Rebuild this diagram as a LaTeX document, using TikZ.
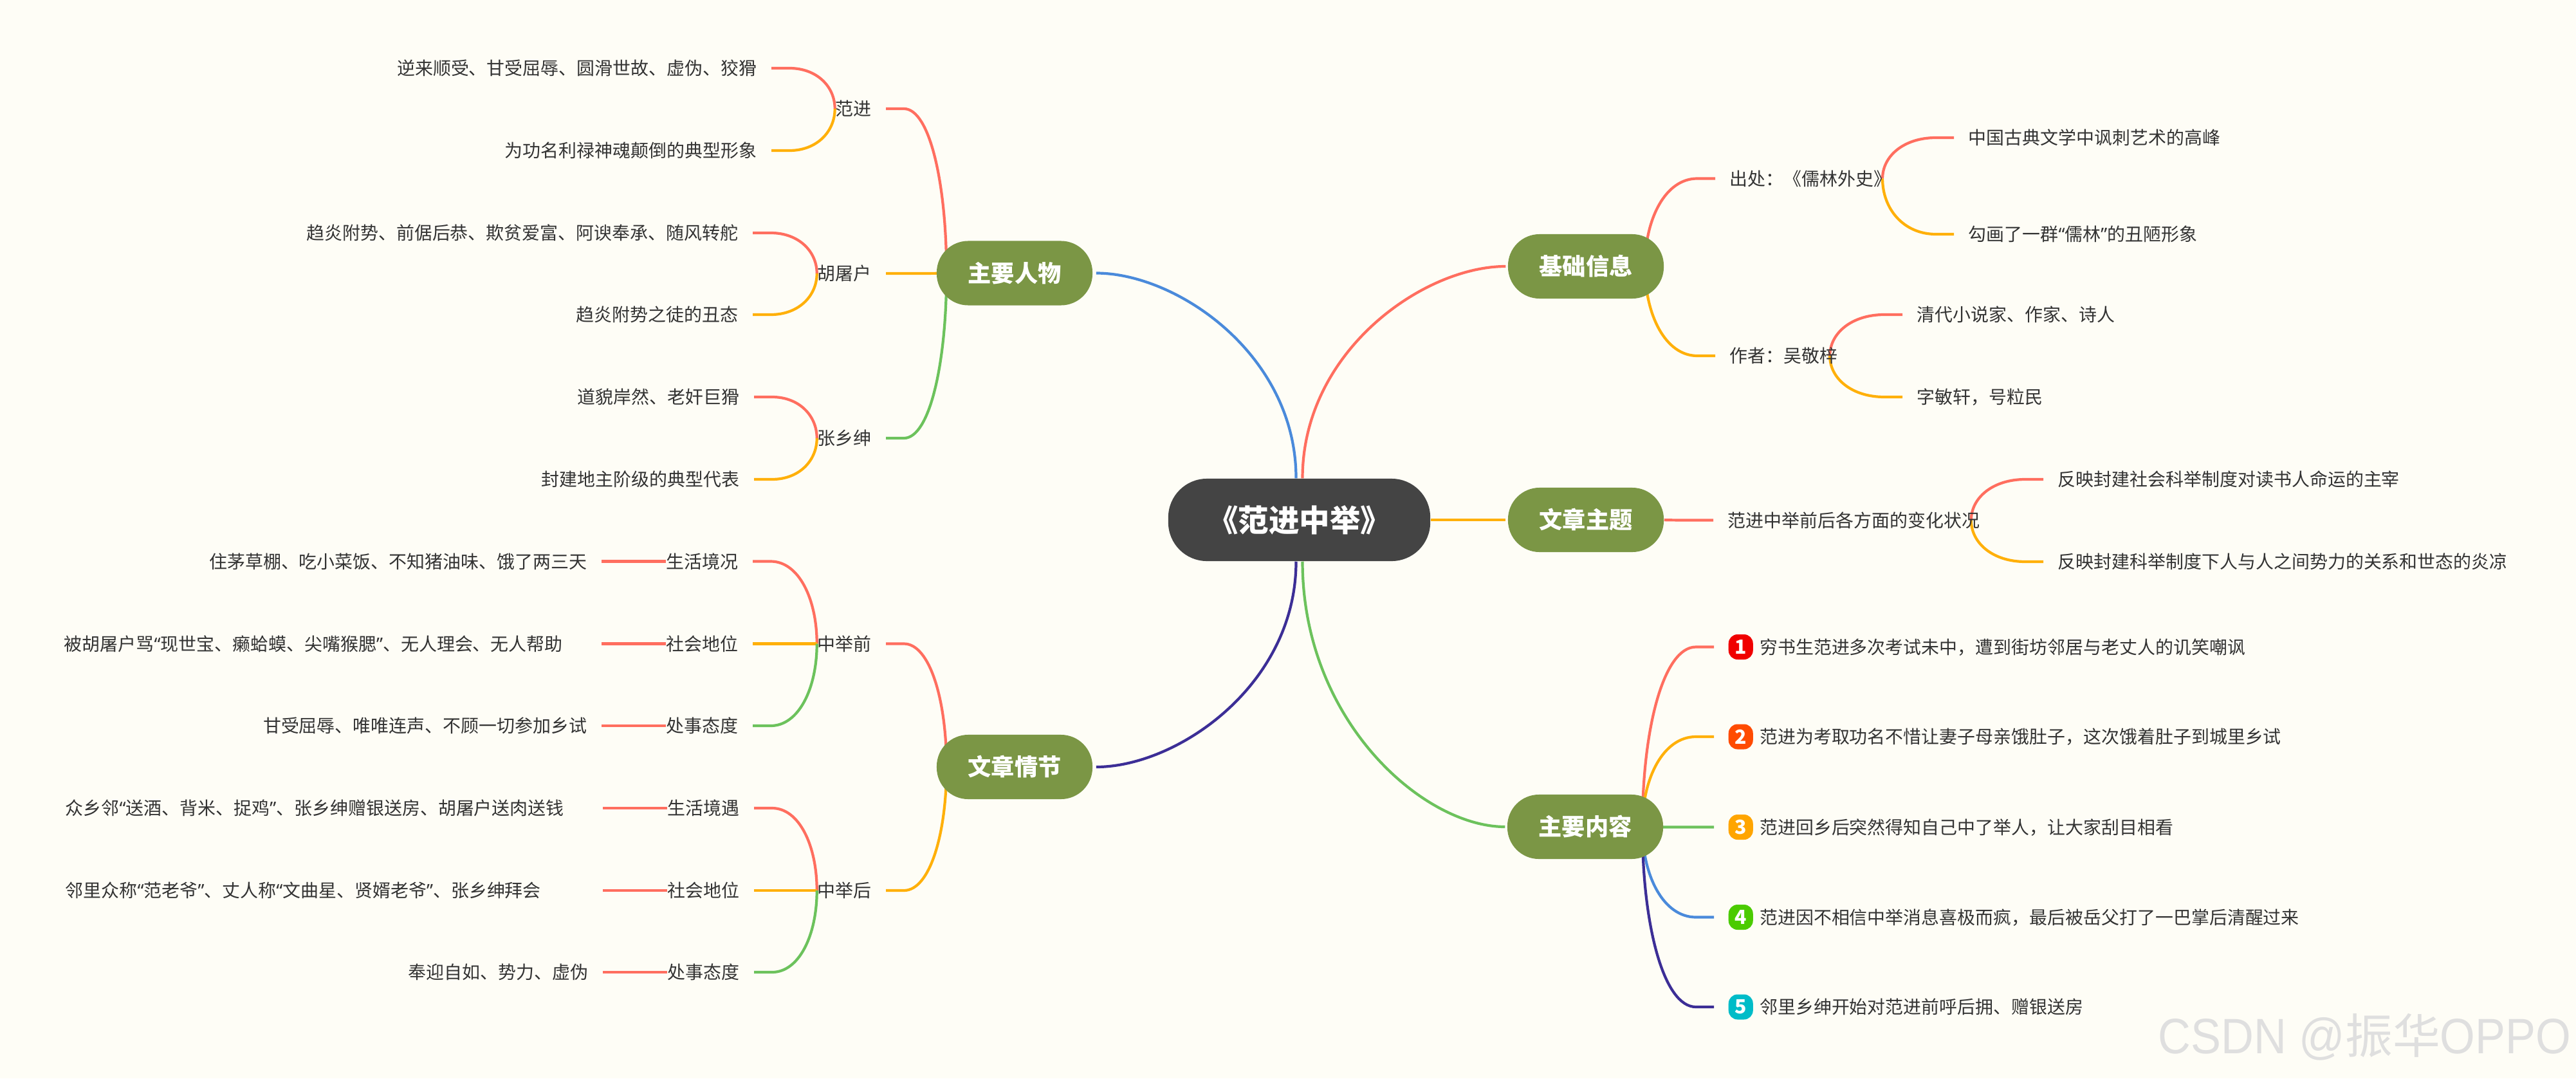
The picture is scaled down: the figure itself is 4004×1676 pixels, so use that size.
\documentclass[tikz,border=0pt]{standalone}
\usepackage{fontspec}
\usepackage{xcolor}
\usetikzlibrary{positioning,backgrounds,calc}
\setmainfont{Noto Sans CJK SC}
\newfontfamily\qtfont{Noto Sans}
\newfontfamily\wmfont[FakeStretch=0.91]{Liberation Sans}
\newcommand{\ql}{{\qtfont “}}
\newcommand{\qr}{{\qtfont ”}}
\definecolor{paper}{HTML}{FEFDF6}
\definecolor{ink}{HTML}{333333}
\definecolor{rootfill}{HTML}{444444}
\definecolor{topicfill}{HTML}{7B9645}
\definecolor{lred}{HTML}{FF6E5F}
\definecolor{lorange}{HTML}{FFB00A}
\definecolor{lgreen}{HTML}{6CC25C}
\definecolor{lblue}{HTML}{4A8ADB}
\definecolor{lindigo}{HTML}{3C2E96}
\definecolor{wmgray}{HTML}{DFDFDF}
\definecolor{numa}{HTML}{F00000}
\definecolor{numb}{HTML}{FF4B00}
\definecolor{numc}{HTML}{FFA500}
\definecolor{numd}{HTML}{4BCB00}
\definecolor{nume}{HTML}{00BCC8}
\tikzset{
  rootbox/.style={fill=rootfill, text=white, rounded corners=0.6cm,
                  minimum width=4.07cm, minimum height=1.28cm, inner sep=0pt,
                  font=\fontsize{13.5}{16}\selectfont\bfseries},
  topic/.style={fill=topicfill, text=white, rounded corners=0.49cm,
                minimum width=2.42cm, minimum height=1cm, inner sep=0pt,
                font=\fontsize{10.3}{12}\selectfont\bfseries},
  leaf/.style={inner sep=0pt, text=ink, text height=0.23cm, text depth=0.02cm,
               font=\fontsize{7.95}{10}\selectfont},
  leafl/.style={leaf, anchor=east},
  leafr/.style={leaf, anchor=west},
  wide/.style={text width=8.12cm, align=left},
  badge/.style={fill=#1, text=white, rounded corners=0.14cm, anchor=west,
                minimum width=0.38cm, minimum height=0.39cm, inner sep=0pt,
                font=\fontsize{8.6}{10}\selectfont\bfseries},
  tol/.style={draw=#1, line width=0.042cm, to path={let \p1=(\tikztostart), \p2=(\tikztotarget) in
      .. controls (\x1,{\y1+0.55*(\y2-\y1)}) and ({\x2+0.5cm+0.6*(\x1-\x2-0.5cm)},\y2)
      .. ({\x2+0.5cm},\y2) -- ({\x2+0.22cm},\y2)}},
  tor/.style={draw=#1, line width=0.042cm, to path={let \p1=(\tikztostart), \p2=(\tikztotarget) in
      .. controls (\x1,{\y1+0.55*(\y2-\y1)}) and ({\x2-0.5cm+0.6*(\x1-\x2+0.5cm)},\y2)
      .. ({\x2-0.5cm},\y2) -- ({\x2-0.22cm},\y2)}},
  rootl/.style={draw=#1, line width=0.042cm, to path={let \p1=(\tikztostart), \p2=(\tikztotarget) in
      .. controls (\x1,{\y1+0.6*(\y2-\y1)}) and ({\x2+0.05cm+0.4*(\x1-\x2)},\y2)
      .. ({\x2+0.05cm},\y2)}},
  rootr/.style={draw=#1, line width=0.042cm, to path={let \p1=(\tikztostart), \p2=(\tikztotarget) in
      .. controls (\x1,{\y1+0.6*(\y2-\y1)}) and ({\x2-0.03cm+0.4*(\x1-\x2)},\y2)
      .. ({\x2-0.03cm},\y2)}}
}
\begin{document}
\begin{tikzpicture}[x=0.01cm,y=-0.01cm]
  \path[use as bounding box] (0,0) rectangle (4004,1676);
  % centre and the five topics
  \node[rootbox] (root) at (2019.5,808) {《范进中举》};
  \node[topic] (renwu) at (1577,424.5) {主要人物};
  \node[topic] (qingjie) at (1577,1192) {文章情节};
  \node[topic] (jichu) at (2465,414) {基础信息};
  \node[topic] (zhuti) at (2465,808) {文章主题};
  \node[topic] (neirong) at (2464,1285) {主要内容};
  % left, characters
  \node[leafl] (fanjin) at (1355,169) {范进};
  \node[leafl] (fj1) at (1177,106) {逆来顺受、甘受屈辱、圆滑世故、虚伪、狡猾};
  \node[leafl] (fj2) at (1177,234) {为功名利禄神魂颠倒的典型形象};
  \node[leafl] (hutu) at (1355,425) {胡屠户};
  \node[leafl] (ht1) at (1148,362) {趋炎附势、前倨后恭、欺贫爱富、阿谀奉承、随风转舵};
  \node[leafl] (ht2) at (1148,489) {趋炎附势之徒的丑态};
  \node[leafl] (xiang) at (1355,681) {张乡绅};
  \node[leafl] (xs1) at (1150,617) {道貌岸然、老奸巨猾};
  \node[leafl] (xs2) at (1150,745) {封建地主阶级的典型代表};
  % left, plot
  \node[leafl] (qian) at (1355,1000.5) {中举前};
  \node[leafl] (qa) at (1148,872.5) {生活境况};
  \node[leafl] (qb) at (1148,1000.5) {社会地位};
  \node[leafl] (qc) at (1148,1128) {处事态度};
  \node[leafl] (qa1) at (913,872.5) {住茅草棚、吃小菜饭、不知猪油味、饿了两三天};
  \node[leafl,wide] (qb1) at (913,1000.5) {被胡屠户骂\ql 现世宝、癞蛤蟆、尖嘴猴腮\qr 、无人理会、无人帮助};
  \node[leafl] (qc1) at (913,1128) {甘受屈辱、唯唯连声、不顾一切参加乡试};
  \node[leafl] (hou) at (1355,1384) {中举后};
  \node[leafl] (ha) at (1150,1256) {生活境遇};
  \node[leafl] (hb) at (1150,1384) {社会地位};
  \node[leafl] (hc) at (1150,1511) {处事态度};
  \node[leafl,wide] (ha1) at (915,1256) {众乡邻\ql 送酒、背米、捉鸡\qr 、张乡绅赠银送房、胡屠户送肉送钱};
  \node[leafl,wide] (hb1) at (915,1384) {邻里众称\ql 范老爷\qr 、丈人称\ql 文曲星、贤婿老爷\qr 、张乡绅拜会};
  \node[leafl] (hc1) at (915,1511) {奉迎自如、势力、虚伪};
  % right, basics and theme
  \node[leafr] (chuchu) at (2688,277.5) {出处：《儒林外史》};
  \node[leafr] (cc1) at (3059,214) {中国古典文学中讽刺艺术的高峰};
  \node[leafr] (cc2) at (3059,364) {勾画了一群\ql 儒林\qr 的丑陋形象};
  \node[leafr] (zuozhe) at (2688,553) {作者：吴敬梓};
  \node[leafr] (zz1) at (2979,489) {清代小说家、作家、诗人};
  \node[leafr] (zz2) at (2979,617) {字敏轩，号粒民};
  \node[leafr] (bianhua) at (2685,808.5) {范进中举前后各方面的变化状况};
  \node[leafr] (bh1) at (3198,745) {反映封建社会科举制度对读书人命运的主宰};
  \node[leafr] (bh2) at (3198,873) {反映封建科举制度下人与人之间势力的关系和世态的炎凉};
  % right, numbered events
  \node[badge=numa] (b1) at (2686,1005.5) {1};
  \node[badge=numb] (b2) at (2686,1145) {2};
  \node[badge=numc] (b3) at (2686,1285.5) {3};
  \node[badge=numd] (b4) at (2686,1425.5) {4};
  \node[badge=nume] (b5) at (2686,1565) {5};
  \node[leaf,right=0.09cm of b1] (e1) {穷书生范进多次考试未中，遭到街坊邻居与老丈人的讥笑嘲讽};
  \node[leaf,right=0.09cm of b2] (e2) {范进为考取功名不惜让妻子母亲饿肚子，这次饿着肚子到城里乡试};
  \node[leaf,right=0.09cm of b3] (e3) {范进回乡后突然得知自己中了举人，让大家刮目相看};
  \node[leaf,right=0.09cm of b4] (e4) {范进因不相信中举消息喜极而疯，最后被岳父打了一巴掌后清醒过来};
  \node[leaf,right=0.09cm of b5] (e5) {邻里乡绅开始对范进前呼后拥、赠银送房};
  \node[anchor=east, inner sep=0pt, text=wmgray, text height=0.55cm, text depth=0pt,
        font=\fontsize{21}{24}\selectfont] (wmark) at (3997,1610) {{\wmfont\fontsize{22}{24}\selectfont CSDN @}振华{\wmfont\fontsize{22}{24}\selectfont OPPO}};
  \begin{pgfonlayer}{background}
    \fill[paper] (0,0) rectangle (4004,1676);
    \draw[rootl=lblue] ($(root.north)+(-5,0)$) to (renwu.east);
    \draw[rootr=lred] ($(root.north)+(5,0)$) to (jichu.west);
    \draw[rootr=lorange] (root.east) to (zhuti.west);
    \draw[rootr=lgreen] ($(root.south)+(5,0)$) to (neirong.west);
    \draw[rootl=lindigo] ($(root.south)+(-5,0)$) to (qingjie.east);
    \draw[tol=lred] ($(renwu.west)+(16,0)$) to (fanjin.east);
    \draw[tol=lorange] ($(renwu.west)+(16,0)$) to (hutu.east);
    \draw[tol=lgreen] ($(renwu.west)+(16,0)$) to (xiang.east);
    \draw[tol=lred] (fanjin.west) to (fj1.east);
    \draw[tol=lorange] (fanjin.west) to (fj2.east);
    \draw[tol=lred] (hutu.west) to (ht1.east);
    \draw[tol=lorange] (hutu.west) to (ht2.east);
    \draw[tol=lred] (xiang.west) to (xs1.east);
    \draw[tol=lorange] (xiang.west) to (xs2.east);
    \draw[tol=lred] ($(qingjie.west)+(16,0)$) to (qian.east);
    \draw[tol=lorange] ($(qingjie.west)+(16,0)$) to (hou.east);
    \draw[tol=lred] (qian.west) to (qa.east);
    \draw[tol=lorange] (qian.west) to (qb.east);
    \draw[tol=lgreen] (qian.west) to (qc.east);
    \draw[tol=lred] (qa.west) to (qa1.east);
    \draw[tol=lred] (qb.west) to (qb1.east);
    \draw[tol=lred] (qc.west) to (qc1.east);
    \draw[tol=lred] (hou.west) to (ha.east);
    \draw[tol=lorange] (hou.west) to (hb.east);
    \draw[tol=lgreen] (hou.west) to (hc.east);
    \draw[tol=lred] (ha.west) to (ha1.east);
    \draw[tol=lred] (hb.west) to (hb1.east);
    \draw[tol=lred] (hc.west) to (hc1.east);
    \draw[tor=lred] ($(jichu.east)+(-30,0)$) to (chuchu.west);
    \draw[tor=lorange] ($(jichu.east)+(-30,0)$) to (zuozhe.west);
    \draw[tor=lred] ($(chuchu.east)+(-15,0)$) to (cc1.west);
    \draw[tor=lorange] ($(chuchu.east)+(-15,0)$) to (cc2.west);
    \draw[tor=lred] ($(zuozhe.east)+(-13,0)$) to (zz1.west);
    \draw[tor=lorange] ($(zuozhe.east)+(-13,0)$) to (zz2.west);
    \draw[tor=lred] (zhuti.east) to (bianhua.west);
    \draw[tor=lred] ($(bianhua.east)+(-14,0)$) to (bh1.west);
    \draw[tor=lorange] ($(bianhua.east)+(-14,0)$) to (bh2.west);
    \draw[tor=lred] ($(neirong.east)+(-33,0)$) to (b1.west);
    \draw[tor=lorange] ($(neirong.east)+(-33,0)$) to (b2.west);
    \draw[tor=lgreen] ($(neirong.east)+(-33,0)$) to (b3.west);
    \draw[tor=lblue] ($(neirong.east)+(-33,0)$) to (b4.west);
    \draw[tor=lindigo] ($(neirong.east)+(-33,0)$) to (b5.west);
  \end{pgfonlayer}
\end{tikzpicture}
\end{document}
